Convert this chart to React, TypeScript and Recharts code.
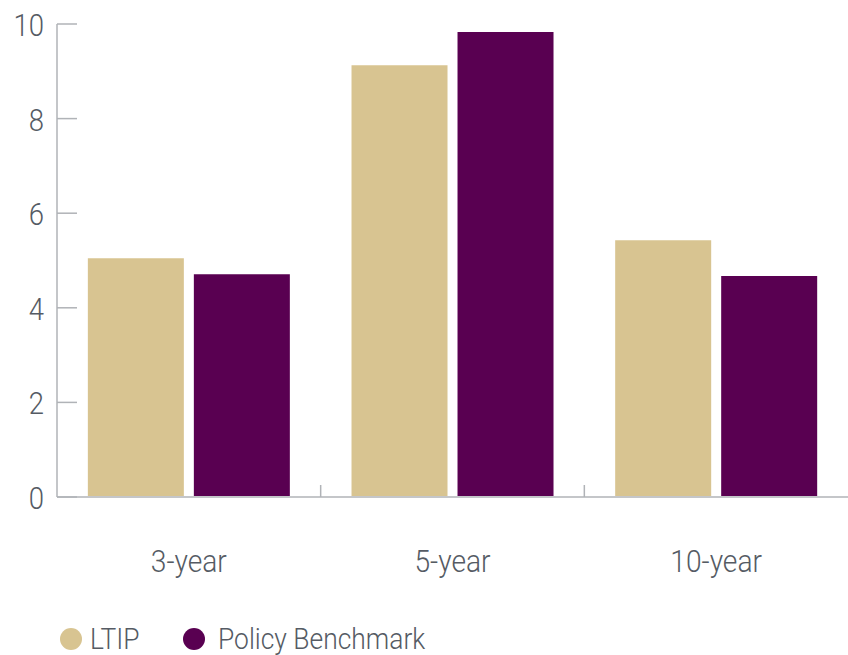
import React from "react";
import { BarChart, Bar, XAxis, YAxis, Legend } from "recharts";

const categories = ["3-year", "5-year", "10-year"];
const ltipValues = [5.05, 9.13, 5.43];
const benchmarkValues = [4.71, 9.83, 4.67];
const yTicks = [0, 2, 4, 6, 8, 10];

const data = categories.map((c, i) => ({
  period: c,
  ltip: ltipValues[i],
  benchmark: benchmarkValues[i],
}));

const FONT = "Roboto, 'Liberation Sans', sans-serif";
const TEXT = "#555b64";
const AXIS = "#b0b3b7";

const YTick = (p: any) => {
  const x = Number(p.x);
  const y = Number(p.y);
  return (
    <g>
      <line x1={x + 13} x2={x + 33} y1={y} y2={y} stroke={AXIS} strokeWidth={1.5} />
      <text
        transform={`translate(${x},${y + 12}) scale(0.86,1)`}
        textAnchor="end"
        fill={TEXT}
        fontSize={32}
        fontWeight={300}
        fontFamily={FONT}
      >
        {p.payload.value}
      </text>
    </g>
  );
};

const XTick = (p: any) => {
  const x = Number(p.x);
  const y = Number(p.y);
  const half = Number(p.payload && p.payload.offset) || 0;
  const last = p.index === (p.visibleTicksCount || categories.length) - 1;
  return (
    <g>
      {!last && half > 0 ? (
        <line x1={x + half} x2={x + half} y1={y} y2={y - 12} stroke={AXIS} strokeWidth={1.5} />
      ) : null}
      <text
        transform={`translate(${x},${y + 75}) scale(0.88,1)`}
        textAnchor="middle"
        fill={TEXT}
        fontSize={32}
        fontWeight={300}
        fontFamily={FONT}
      >
        {p.payload.value}
      </text>
    </g>
  );
};

const itemWidths = [123, 300];
const textGaps = [8, 13];

const LegendContent = (props: any) => (
  <div
    style={{
      height: 44,
      boxSizing: "border-box",
      paddingTop: 12,
      paddingLeft: 60,
      display: "flex",
      alignItems: "center",
      fontFamily: FONT,
      fontWeight: 300,
      fontSize: 30,
      color: TEXT,
    }}
  >
    {(props.payload || []).map((e: any, i: number) => (
      <div key={i} style={{ display: "flex", alignItems: "center", width: itemWidths[i] }}>
        <span
          style={{
            width: 22,
            height: 22,
            borderRadius: 11,
            background: e.color,
            display: "inline-block",
            marginRight: textGaps[i],
            flex: "none",
          }}
        />
        <span
          style={{
            lineHeight: "32px",
            display: "inline-block",
            whiteSpace: "nowrap",
            transform: "scaleX(0.88)",
            transformOrigin: "left center",
          }}
        >
          {e.value}
        </span>
      </div>
    ))}
  </div>
);

export default function App() {
  return (
    <div style={{ position: "absolute", left: 0, top: 0 }}>
      <BarChart
        width={848}
        height={655}
        data={data}
        margin={{ top: 24, right: 0, left: 0, bottom: 0 }}
        barCategoryGap="11.7%"
        barGap={10}
      >
        <XAxis
          dataKey="period"
          height={114}
          axisLine={{ stroke: "#c4c6c9", strokeWidth: 2 }}
          tickLine={false}
          tickSize={0}
          tickMargin={0}
          tick={XTick}
          interval={0}
        />
        <YAxis
          width={57}
          domain={[0, 10]}
          ticks={yTicks}
          axisLine={{ stroke: AXIS, strokeWidth: 1.5 }}
          tickLine={false}
          tickSize={0}
          tickMargin={13}
          tick={YTick}
          interval={0}
        />
        <Legend
          verticalAlign="bottom"
          align="left"
          content={LegendContent}
          wrapperStyle={{ left: 0, width: 848 }}
        />
        <Bar dataKey="ltip" name="LTIP" fill="#d8c491" isAnimationActive={false} />
        <Bar dataKey="benchmark" name="Policy Benchmark" fill="#590051" isAnimationActive={false} />
      </BarChart>
    </div>
  );
}
